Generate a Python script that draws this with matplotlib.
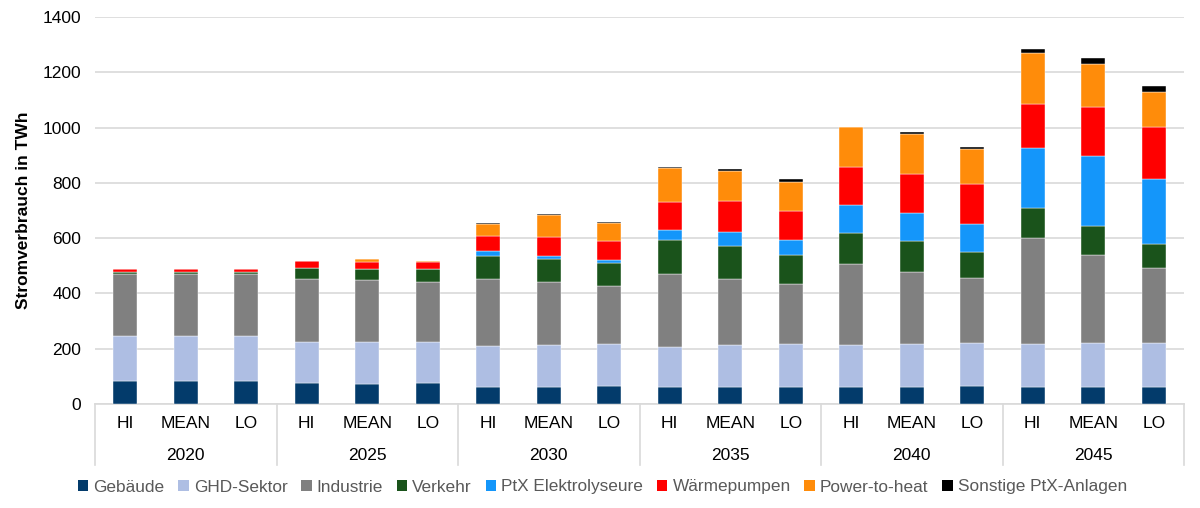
import numpy as np
import matplotlib
matplotlib.use("Agg")
import matplotlib.pyplot as plt
import matplotlib.transforms as mtransforms
from matplotlib.patches import Patch

plt.rcParams['font.family'] = ['Liberation Sans', 'DejaVu Sans']

jahre = ['2020', '2025', '2030', '2035', '2040', '2045']
szenarien = ['HI', 'MEAN', 'LO']

# Werte in TWh, je Balken (Jahr x Szenario)
gebaeude = [85, 85, 85, 75, 72, 75, 63, 63, 64, 60, 60, 62, 62, 62, 64, 60, 60, 62]
ghd = [160, 160, 160, 150, 153, 150, 147, 150, 152, 146, 152, 155, 150, 155, 157, 158, 159, 159]
industrie = [225, 224, 224, 227, 224, 218, 241, 230, 212, 263, 241, 217, 293, 262, 234, 383, 321, 271]
verkehr = [8, 8, 8, 39, 38, 44, 85, 83, 82, 124, 120, 106, 115, 110, 96, 108, 105, 86]
ptx_elektrolyse = [1, 1, 1, 2, 2, 2, 16, 10, 12, 37, 49, 52, 101, 101, 100, 218, 253, 236]
waermepumpen = [9, 9, 9, 24, 26, 24, 57, 69, 66, 101, 111, 107, 135, 143, 146, 158, 177, 188]
power_to_heat = [1, 1, 1, 2, 8, 5, 42, 80, 66, 122, 111, 105, 145, 143, 126, 185, 155, 128]
sonstige_ptx = [0, 0, 0, 0, 1, 1, 2, 4, 4, 4, 6, 9, 2, 7, 8, 14, 21, 20]

namen = ['Gebäude', 'GHD-Sektor', 'Industrie', 'Verkehr', 'PtX Elektrolyseure',
         'Wärmepumpen', 'Power-to-heat', 'Sonstige PtX-Anlagen']
farben = ['#033B6B', '#AEBEE3', '#808080', '#1A531B', '#1496FA',
          '#FF0000', '#FF8C0A', '#000000']
reihen = [gebaeude, ghd, industrie, verkehr, ptx_elektrolyse,
          waermepumpen, power_to_heat, sonstige_ptx]

fig = plt.figure(figsize=(12, 5.08), dpi=100)
ax = fig.add_axes([95/1200, 104/508, 1089/1200, 387/508])

x = np.arange(len(jahre) * len(szenarien))
unten = np.zeros(len(x))
for name, farbe, werte in zip(namen, farben, reihen):
    werte = np.array(werte, dtype=float)
    ax.bar(x, werte, 0.4, bottom=unten, color=farbe, label=name,
           edgecolor='white', linewidth=0.3, zorder=3)
    unten += werte

ax.set_xlim(-0.5, len(x) - 0.5)
ax.set_ylim(0, 1400)
ax.set_yticks(range(0, 1401, 200))
ax.grid(axis='y', color='#d9d9d9', linewidth=1.2, zorder=0)
for s in ['top', 'right', 'left']:
    ax.spines[s].set_visible(False)
ax.spines['bottom'].set_color('#d9d9d9')
ax.spines['bottom'].set_linewidth(1.2)
ax.tick_params(axis='y', length=0, pad=10, labelsize=12.5)
ax.tick_params(axis='x', length=0, pad=9, labelsize=12.5)
ax.set_xticks(x)
ax.set_xticklabels(szenarien * len(jahre))
ax.set_ylabel('Stromverbrauch in TWh', fontsize=12.5, fontweight='bold', labelpad=8)

# Jahres-Beschriftung und Trennlinien unter der Achse
trans = mtransforms.blended_transform_factory(ax.transData, ax.transAxes)
for i, jahr in enumerate(jahre):
    ax.text(i * 3 + 1, -0.132, jahr, transform=trans, ha='center', va='center', fontsize=12.5)
for i in range(len(jahre) + 1):
    ax.plot([i * 3 - 0.5, i * 3 - 0.5], [0, -0.157], transform=trans,
            color='#d9d9d9', linewidth=1.2, clip_on=False)

handles = [Patch(facecolor=f, label=n) for n, f in zip(namen, farben)]
fig.legend(handles=handles, loc='center', bbox_to_anchor=(0.502, 1 - 487/508), ncol=8,
           frameon=False, fontsize=12.4, handlelength=0.6, handleheight=0.6,
           handletextpad=0.3, columnspacing=0.8, labelcolor='#595959')

fig.savefig('out.png', dpi=100)
